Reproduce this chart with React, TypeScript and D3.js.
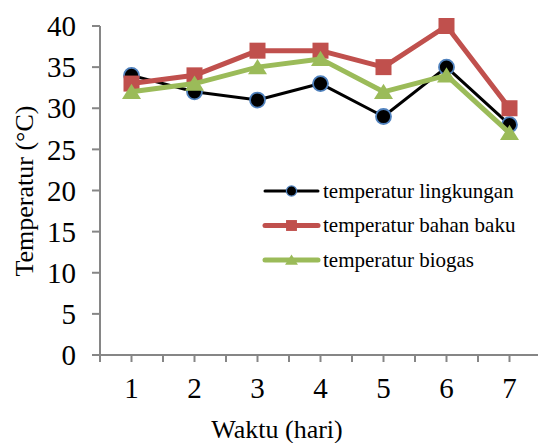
import React from "react";
import * as d3 from "d3";

const days = [1, 2, 3, 4, 5, 6, 7];
const lingkungan = [34, 32, 31, 33, 29, 35, 28];
const bahanBaku = [33, 34, 37, 37, 35, 40, 30];
const biogas = [32, 33, 35, 36, 32, 34, 27];
const yTicks = [0, 5, 10, 15, 20, 25, 30, 35, 40];
const seriesNames = ["temperatur lingkungan", "temperatur bahan baku", "temperatur biogas"];

const W = 538, H = 443;
const X0 = 100, CAT = 63;
const FONT = "Liberation Serif, Times New Roman, serif";
const AXIS = "#868686";

export default function App() {
  const y = d3.scaleLinear().domain([0, 40]).range([355, 26]);
  const x = (d: number) => X0 + (d - 0.5) * CAT;
  const line = d3.line<number>().x((_, i) => x(days[i])).y((v) => y(v));
  const halfTicks = d3.range(0, 15).map((i) => X0 + i * CAT / 2);

  const series = [
    { name: seriesNames[0], data: lingkungan, color: "#000000", width: 3, marker: "circle" },
    { name: seriesNames[1], data: bahanBaku, color: "#C0504D", width: 5, marker: "square" },
    { name: seriesNames[2], data: biogas, color: "#9BBB59", width: 5, marker: "triangle" },
  ];

  const marker = (kind: string, cx: number, cy: number, s: number, key: any) => {
    if (kind === "circle")
      return <circle key={key} cx={cx} cy={cy} r={7.5 * s} fill="#000" stroke="#4F81BD" strokeWidth={1.8 * s} />;
    if (kind === "square")
      return <rect key={key} x={cx - 8 * s} y={cy - 8 * s} width={16 * s} height={16 * s} fill="#C0504D" />;
    const a = 9.5 * s;
    return (
      <path key={key} d={`M${cx},${cy - a * 0.85}L${cx + a},${cy + a * 0.75}L${cx - a},${cy + a * 0.75}Z`} fill="#9BBB59" />
    );
  };

  return (
    <svg width={W} height={H} style={{ position: "absolute", left: 0, top: 0, background: "#fff" }}>
      {/* y axis */}
      <line x1={X0} x2={X0} y1={y(40)} y2={y(0)} stroke={AXIS} strokeWidth={2} />
      {yTicks.map((t) => (
        <g key={t}>
          <line x1={X0 - 8} x2={X0} y1={y(t)} y2={y(t)} stroke={AXIS} strokeWidth={2} />
          <text x={76} y={y(t)} dy="0.35em" textAnchor="end" fontFamily={FONT} fontSize={29} fill="#000">
            {t}
          </text>
        </g>
      ))}
      {/* x axis */}
      <line x1={X0 - 8} x2={W} y1={y(0)} y2={y(0)} stroke={AXIS} strokeWidth={2} />
      {halfTicks.map((t, i) => (
        <line key={i} x1={t} x2={t} y1={y(0)} y2={y(0) + 7} stroke={AXIS} strokeWidth={2} />
      ))}
      {days.map((d) => (
        <text key={d} x={x(d)} y={398} textAnchor="middle" fontFamily={FONT} fontSize={29} fill="#000">
          {d}
        </text>
      ))}
      <text x={277} y={438} textAnchor="middle" fontFamily={FONT} fontSize={26} fill="#000">
        Waktu (hari)
      </text>
      <text
        transform={`translate(33,191) rotate(-90)`}
        textAnchor="middle"
        fontFamily={FONT}
        fontSize={26}
        fill="#000"
      >
        Temperatur (°C)
      </text>
      {/* series */}
      {series.map((s, si) => (
        <g key={si}>
          <path d={line(s.data) || ""} fill="none" stroke={s.color} strokeWidth={s.width} strokeLinejoin="round" />
          {s.data.map((v, i) => marker(s.marker, x(days[i]), y(v), 1, i))}
        </g>
      ))}
      {/* legend */}
      {series.map((s, i) => {
        const ly = 191 + i * 34.5;
        return (
          <g key={i}>
            <line x1={265} x2={318} y1={ly} y2={ly} stroke={s.color} strokeWidth={s.width} strokeLinecap="round" />
            {marker(s.marker, 291.5, ly, 0.68, "m")}
            <text x={323} y={ly} dy="0.33em" fontFamily={FONT} fontSize={21} fill="#000">
              {s.name}
            </text>
          </g>
        );
      })}
    </svg>
  );
}
